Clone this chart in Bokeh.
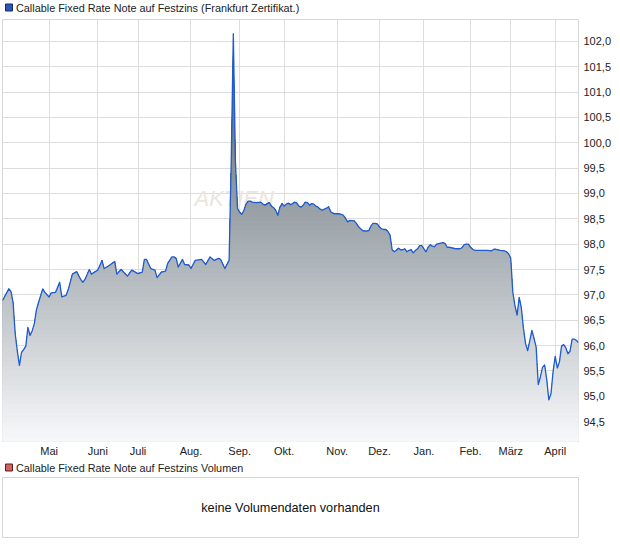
import numpy as np
from bokeh.plotting import figure
from bokeh.models import Range1d, FixedTicker, Label
from bokeh.layouts import column
from bokeh.embed import file_html
from bokeh.resources import INLINE

FONT = "Liberation Sans"

series_name = "Callable Fixed Rate Note auf Festzins (Frankfurt Zertifikat.)"
volume_name = "Callable Fixed Rate Note auf Festzins Volumen"
volume_note = "keine Volumendaten vorhanden"
watermark = "AKTIEN"

# trading-day index and closing price
day = [0, 3, 4, 5, 6, 7, 8, 9, 10, 11, 12, 13, 14, 15, 16, 17, 19, 20, 22, 23,
       25, 27, 28, 30, 31, 33, 35, 37, 38, 39, 41, 42, 45, 47, 48, 50, 53, 54, 56, 59,
       61, 64, 66, 67, 68, 70, 72, 73, 75, 77, 78, 80, 81, 82, 83, 85, 86, 88, 89, 91,
       94, 96, 98, 100, 102, 103, 105, 107, 108, 109, 110, 111, 112, 113, 114, 115, 116, 117, 118, 120,
       122, 123, 124, 125, 126, 127, 128, 129, 130, 131, 132, 133, 134, 135, 136, 137, 138, 139, 140, 141,
       142, 143, 144, 145, 146, 147, 148, 149, 150, 151, 152, 153, 154, 155, 156, 157, 159, 160, 161, 162,
       163, 164, 166, 167, 168, 169, 170, 171, 172, 173, 174, 175, 176, 177, 178, 179, 180, 181, 182, 183,
       184, 185, 186, 187, 188, 189, 190, 191, 192, 193, 194, 195, 196, 197, 198, 199, 200, 201, 202, 203,
       204, 205, 206, 207, 208, 209, 210, 211, 212, 213, 214, 216, 217, 218, 219, 220, 221, 222, 223, 225,
       227, 229, 231, 232, 233, 235, 237, 238, 239, 240, 241, 242, 243, 244, 245, 246, 247, 248, 249, 250,
       251, 252, 253, 254, 255, 256, 257, 258, 259, 260, 261, 262, 263, 264, 265, 266, 267, 268, 269, 270,
       271, 272]
price = [96.89, 97.12, 97.07, 96.85, 96.24, 95.89, 95.61, 95.87, 95.92, 95.99, 96.36, 96.20, 96.29, 96.43, 96.70, 96.85, 97.12, 97.05, 96.96, 97.04,
         97.05, 97.25, 96.96, 96.99, 97.10, 97.41, 97.46, 97.30, 97.25, 97.31, 97.50, 97.41, 97.49, 97.68, 97.52, 97.57, 97.66, 97.41, 97.50, 97.37,
         97.49, 97.42, 97.45, 97.70, 97.70, 97.52, 97.49, 97.34, 97.45, 97.47, 97.62, 97.75, 97.75, 97.72, 97.55, 97.70, 97.60, 97.59, 97.52, 97.68,
         97.70, 97.60, 97.75, 97.68, 97.72, 97.70, 97.52, 97.68, 99.62, 102.15, 99.62, 98.70, 98.63, 98.59, 98.67, 98.79, 98.85, 98.85, 98.83, 98.82,
         98.83, 98.79, 98.77, 98.80, 98.82, 98.75, 98.72, 98.67, 98.57, 98.73, 98.80, 98.75, 98.79, 98.81, 98.78, 98.80, 98.83, 98.81, 98.75, 98.73,
         98.77, 98.83, 98.82, 98.77, 98.80, 98.79, 98.75, 98.73, 98.69, 98.67, 98.69, 98.71, 98.74, 98.64, 98.61, 98.60, 98.60, 98.59, 98.57, 98.51,
         98.44, 98.47, 98.46, 98.42, 98.35, 98.31, 98.27, 98.26, 98.26, 98.27, 98.36, 98.41, 98.41, 98.40, 98.34, 98.30, 98.29, 98.29, 98.25, 98.18,
         97.89, 97.85, 97.88, 97.92, 97.89, 97.89, 97.91, 97.85, 97.88, 97.89, 97.83, 97.88, 97.91, 97.97, 97.97, 97.91, 97.85, 97.94, 97.99, 97.96,
         97.95, 98.00, 98.01, 98.02, 98.03, 98.01, 97.94, 97.94, 97.93, 97.92, 97.91, 97.91, 97.93, 97.99, 98.00, 98.00, 97.94, 97.90, 97.88, 97.88,
         97.88, 97.88, 97.87, 97.90, 97.90, 97.88, 97.87, 97.85, 97.81, 97.72, 97.05, 96.79, 96.60, 96.95, 96.75, 96.34, 96.04, 95.90, 96.10, 96.30,
         96.14, 95.97, 95.23, 95.38, 95.57, 95.62, 95.33, 94.93, 95.05, 95.49, 95.79, 95.56, 95.68, 95.99, 96.02, 95.96, 95.84, 95.89, 96.13, 96.13,
         96.10, 96.06]

month_pos = [22, 45, 64, 89, 112, 133, 158, 178, 199, 221, 240, 261]
month_labels = ["Mai", "Juni", "Juli", "Aug.", "Sep.", "Okt.", "Nov.", "Dez.", "Jan.", "Feb.", "März", "April"]

price_ticks = [94.5, 95.0, 95.5, 96.0, 96.5, 97.0, 97.5, 98.0, 98.5, 99.0, 99.5, 100.0, 100.5, 101.0, 101.5, 102.0]
price_labels = ["94,5", "95,0", "95,5", "96,0", "96,5", "97,0", "97,5", "98,0", "98,5", "99,0", "99,5", "100,0", "100,5", "101,0", "101,5", "102,0"]

X_MIN, X_MAX = 0, 272
Y_MIN, Y_MAX = 94.11, 102.43

LINE_BLUE = "#1f5bcf"
GRID = "#dddddd"
BORDER = "#d6d6d6"
TEXT = "#222222"
W = 620
LEFT = 2
FRAME_W = 576


def legend_strip(height, center, label, swatch_fill, swatch_line):
    """A thin strip holding a coloured square and the series name (screen-pixel ranges)."""
    f = figure(frame_width=W, frame_height=height, x_range=Range1d(0, W), y_range=Range1d(height, 0),
               output_backend="svg", toolbar_location=None,
               x_axis_location=None, y_axis_location=None,
               min_border_left=0, min_border_right=0, min_border_top=0, min_border_bottom=0,
               background_fill_color="white", border_fill_color="white", outline_line_color=None)
    f.grid.visible = False
    f.rect(x=[6.5], y=[center - 0.5], width=[7], height=[7], fill_color=swatch_fill,
           line_color=swatch_line, line_width=1)
    f.add_layout(Label(x=13.5, y=height - center, x_units="screen", y_units="screen", text=label,
                       text_font=FONT, text_font_size="10.85px", text_color=TEXT,
                       text_baseline="middle"))
    return f


top_legend = legend_strip(19, 7.5, series_name, "#2a55c0", "#1b2b55")

p = figure(frame_width=FRAME_W, frame_height=422,
           x_range=Range1d(X_MIN, X_MAX), y_range=Range1d(Y_MIN, Y_MAX),
           output_backend="svg", toolbar_location=None, y_axis_location="right",
           min_border_left=LEFT, min_border_right=W - FRAME_W - LEFT, min_border_top=0,
           min_border_bottom=19,
           background_fill_color="white", border_fill_color="white",
           outline_line_color=BORDER)

# axes
p.xaxis.ticker = FixedTicker(ticks=month_pos)
p.xaxis.major_label_overrides = {k: v for k, v in zip(month_pos, month_labels)}
p.yaxis.ticker = FixedTicker(ticks=price_ticks)
p.yaxis.major_label_overrides = {k: v for k, v in zip(price_ticks, price_labels)}
for ax in (p.xaxis[0], p.yaxis[0]):
    ax.axis_line_color = None
    ax.major_tick_line_color = None
    ax.minor_tick_line_color = None
    ax.major_tick_out = 0
    ax.major_tick_in = 0
    ax.major_label_text_font = FONT
    ax.major_label_text_font_size = "11px"
    ax.major_label_text_color = TEXT
p.xaxis.major_label_standoff = 3
p.yaxis.major_label_standoff = 5
p.grid.grid_line_color = GRID
p.grid.grid_line_width = 1

# watermark (mostly hidden behind the area)
p.add_layout(Label(x=192, y=231, x_units="screen", y_units="screen", text=watermark,
                   text_font=FONT, text_font_style="italic", text_font_size="22px",
                   text_color="#ebe5de", level="underlay"))

# gradient area fill (stacked bands, darkest first)
vx = np.array(day, dtype=float)
vy = np.array(price, dtype=float)
n_bands = 90
step = (Y_MAX - Y_MIN) / n_bands
c_top = np.array([74, 89, 98], dtype=float)
c_bot = np.array([247, 248, 250], dtype=float)
base = np.full_like(vx, Y_MIN)
for k in range(n_bands):
    top = Y_MAX - k * step
    f = (Y_MAX - (top - step / 2)) / (Y_MAX - Y_MIN)
    c = c_top + (c_bot - c_top) * f
    col = "#%02x%02x%02x" % tuple(int(round(v)) for v in c)
    p.varea(x=vx, y1=base, y2=np.minimum(vy, top), fill_color=col)

p.line(vx, vy, line_color=LINE_BLUE, line_width=1.3, line_join="round")

vol_legend = legend_strip(17, 7.5, volume_name, "#d46060", "#5a2020")

# volume panel
p2 = figure(frame_width=FRAME_W, frame_height=60, x_range=Range1d(0, 1), y_range=Range1d(0, 1),
            output_backend="svg", toolbar_location=None,
            x_axis_location=None, y_axis_location=None,
            min_border_left=LEFT, min_border_right=W - FRAME_W - LEFT, min_border_top=0,
            min_border_bottom=9,
            background_fill_color="white", border_fill_color="white",
            outline_line_color=BORDER)
p2.grid.visible = False
p2.add_layout(Label(x=FRAME_W / 2, y=30, x_units="screen", y_units="screen", text=volume_note,
                    text_font=FONT, text_font_size="12.7px", text_color="#111111",
                    text_align="center", text_baseline="middle"))

layout = column(top_legend, p, vol_legend, p2, spacing=0)

with open("out.html", "w") as fh:
    fh.write(file_html(layout, INLINE))
